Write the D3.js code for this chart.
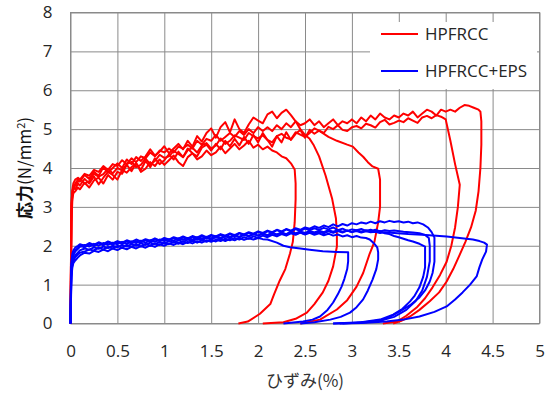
<!DOCTYPE html>
<html>
<head>
<meta charset="utf-8">
<script src="https://cdn.jsdelivr.net/npm/d3@7"></script>
<style>
  body { margin: 0; background: #fff; }
  svg { display: block; }
</style>
</head>
<body>
<svg id="chart" width="550" height="394"></svg>
<script>
const xTicks = [0, 0.5, 1, 1.5, 2, 2.5, 3, 3.5, 4, 4.5, 5];
const yTicks = [0, 1, 2, 3, 4, 5, 6, 7, 8];
const seriesNames = ['HPFRCC', 'HPFRCC+EPS'];

// strain (%) values where the loading branches were read
const strainGrid = [0, 0.005, 0.01, 0.02, 0.03, 0.05, 0.08,
  0.1, 0.15, 0.2, 0.25, 0.3, 0.35, 0.4, 0.45, 0.5,
  0.55, 0.6, 0.65, 0.7, 0.75, 0.8, 0.85, 0.9, 0.95, 1.0,
  1.05, 1.1, 1.15, 1.2, 1.25, 1.3, 1.35, 1.4, 1.45, 1.5,
  1.55, 1.6, 1.65, 1.7, 1.75, 1.8, 1.85, 1.9, 1.95, 2.0,
  2.05, 2.1, 2.15, 2.2, 2.25, 2.3, 2.35, 2.4, 2.45, 2.5,
  2.55, 2.6, 2.65, 2.7, 2.75, 2.8, 2.85, 2.9, 2.95, 3.0,
  3.05, 3.1, 3.15, 3.2, 3.25, 3.3, 3.35, 3.4, 3.45, 3.5,
  3.55, 3.6, 3.65, 3.7, 3.75, 3.8, 3.85, 3.9, 3.95, 4.0,
  4.05, 4.1, 4.15, 4.2, 4.25, 4.3, 4.35];

// HPFRCC specimens: stress on strainGrid, then unloading [strain, stress]
const hpLoad1 = [0, 1.6, 3.1, 3.4, 3.5, 3.45, 3.6,
  3.55, 3.72, 3.6, 3.78, 3.58, 3.75, 3.9, 3.82, 3.7,
  3.95, 3.88, 4.02, 4.12, 3.9, 3.98, 4.15, 4.05, 4.22, 4.08,
  4.2, 4.32, 4.15, 4.05, 4.28, 4.38, 4.22, 4.3, 4.45, 4.33,
  4.4, 4.55, 4.38, 4.5, 4.62, 4.48, 4.58, 4.7, 4.52, 4.6,
  4.48, 4.55];
const hpUnload1 = [[2.15, 4.45], [2.2, 4.4], [2.25, 4.3], [2.3, 4.25], [2.35, 4.12], [2.39, 3.96],
  [2.4, 3.6], [2.4, 3.2], [2.39, 2.6], [2.37, 2.1], [2.34, 1.8], [2.29, 1.4], [2.23, 1.1],
  [2.17, 0.75], [2.13, 0.5], [2.02, 0.25], [1.89, 0.05], [1.79, 0]];

const hpLoad2 = [0, 1.5, 2.9, 3.3, 3.45, 3.6, 3.7,
  3.65, 3.82, 3.72, 3.9, 3.8, 4.02, 3.88, 4.0, 4.12,
  4.0, 4.22, 4.1, 4.28, 4.18, 4.3, 4.48, 4.32, 4.42, 4.56,
  4.38, 4.5, 4.62, 4.48, 4.7, 4.55, 4.82, 4.68, 4.9, 5.02,
  4.78, 5.05, 5.18, 4.92, 5.25, 5.0, 4.9, 5.12, 5.3, 5.22,
  5.15, 5.38, 5.45, 5.28, 5.42, 5.5, 5.36];
const hpUnload2 = [[2.4, 5.2], [2.45, 5.0], [2.5, 4.85], [2.55, 4.75], [2.59, 4.6], [2.65, 4.3],
  [2.72, 3.8], [2.79, 3.2], [2.83, 2.7], [2.84, 2.3], [2.84, 1.98], [2.8, 1.47], [2.75, 1.1],
  [2.69, 0.8], [2.6, 0.5], [2.52, 0.28], [2.4, 0.12], [2.27, 0.03], [2.05, 0]];

const hpLoad3 = [0, 1.2, 2.6, 3.2, 3.35, 3.4, 3.5,
  3.45, 3.62, 3.5, 3.68, 3.75, 3.6, 3.82, 3.7, 3.9,
  3.85, 4.08, 3.92, 4.12, 3.95, 4.18, 4.02, 4.25, 4.1, 4.2,
  4.35, 4.22, 4.42, 4.28, 4.5, 4.38, 4.3, 4.52, 4.6, 4.45,
  4.62, 4.48, 4.7, 4.56, 4.75, 4.58, 4.8, 4.62, 4.85, 4.66,
  4.9, 4.72, 4.55, 4.82, 4.66, 4.92, 4.72, 4.88, 4.98, 4.78,
  4.98, 4.88, 4.96];
const hpUnload3 = [[2.75, 4.8], [2.84, 4.7], [2.95, 4.6], [3.01, 4.55], [3.07, 4.4], [3.12, 4.29],
  [3.17, 4.15], [3.22, 4.04], [3.28, 3.98], [3.3, 3.7], [3.3, 3.0], [3.28, 2.6], [3.24, 2.1],
  [3.19, 1.8], [3.12, 1.3], [3.05, 0.95], [2.95, 0.6], [2.84, 0.36], [2.66, 0.1], [2.45, 0]];

const hpLoad4 = [0, 1.4, 2.8, 3.35, 3.5, 3.55, 3.65,
  3.72, 3.6, 3.66, 3.85, 3.78, 3.84, 3.98, 3.86, 4.0,
  3.94, 4.1, 4.16, 4.02, 4.08, 4.24, 4.1, 4.18, 4.34, 4.26,
  4.3, 4.44, 4.36, 4.28, 4.46, 4.52, 4.4, 4.58, 4.64, 4.5,
  4.58, 4.76, 4.62, 4.7, 4.84, 4.78, 4.72, 4.9, 4.82, 4.76,
  4.84, 4.72, 4.66, 4.82, 4.88, 4.78, 4.74, 4.92, 4.86, 4.8,
  4.9, 5.02, 4.96, 4.9, 5.06, 5.0, 5.1, 4.98, 4.95, 5.05,
  5.08, 5.02, 5.14, 5.1, 5.04, 5.18, 5.24, 5.12, 5.16, 5.22,
  5.18, 5.28, 5.22, 5.16, 5.3, 5.34, 5.28, 5.36, 5.32, 5.25];
const hpUnload4 = [[4.05, 4.7], [4.1, 4.1], [4.15, 3.57], [4.13, 3.0], [4.1, 2.47], [4.06, 2.0],
  [4.01, 1.59], [3.94, 1.25], [3.86, 0.93], [3.78, 0.65], [3.69, 0.41], [3.58, 0.2],
  [3.48, 0.05], [3.33, 0]];

const hpLoad5 = [0, 1.5, 3.0, 3.45, 3.6, 3.7, 3.75,
  3.7, 3.85, 3.8, 3.95, 3.9, 4.05, 3.95, 4.1, 4.05,
  4.2, 4.1, 4.25, 4.15, 4.3, 4.25, 4.4, 4.3, 4.45, 4.4,
  4.5, 4.4, 4.55, 4.5, 4.6, 4.5, 4.7, 4.6, 4.75, 4.7,
  4.85, 4.7, 4.8, 4.9, 4.8, 4.95, 4.85, 5.0, 4.9, 5.05,
  4.95, 5.05, 4.95, 5.1, 5.0, 5.15, 5.05, 5.2, 5.1, 5.15,
  5.25, 5.1, 5.2, 5.05, 5.15, 5.25, 5.1, 5.2, 5.15, 5.25,
  5.15, 5.3, 5.2, 5.35, 5.25, 5.4, 5.3, 5.25, 5.35, 5.3,
  5.4, 5.35, 5.45, 5.3, 5.4, 5.5, 5.45, 5.35, 5.5, 5.45,
  5.5, 5.45, 5.55, 5.62, 5.6, 5.55, 5.5];
const hpUnload5 = [[4.37, 5.45], [4.38, 5.2], [4.38, 4.6], [4.37, 4.0], [4.35, 3.4], [4.32, 2.9],
  [4.27, 2.47], [4.21, 2.1], [4.15, 1.77], [4.08, 1.4], [4.01, 1.08], [3.93, 0.8], [3.83, 0.57],
  [3.72, 0.35], [3.62, 0.18], [3.52, 0.06], [3.44, 0]];

// HPFRCC+EPS specimens
const epsLoad1 = [0, 0.7, 1.3, 1.5, 1.6, 1.7, 1.78,
  1.82, 1.85, 1.9, 1.88, 1.95, 1.9, 1.97, 1.93, 2.0,
  1.95, 2.02, 1.97, 2.03, 1.98, 2.05, 2.0, 2.06, 2.02, 2.08,
  2.04, 2.1, 2.05, 2.11, 2.07, 2.13, 2.08, 2.14, 2.1, 2.15,
  2.11, 2.17, 2.12, 2.18, 2.14, 2.2, 2.15, 2.19, 2.16, 2.2,
  2.17, 2.16];
const epsUnload1 = [[2.2, 2.08], [2.27, 2.0], [2.34, 1.96], [2.45, 1.93], [2.55, 1.9], [2.69, 1.86],
  [2.84, 1.84], [2.96, 1.83], [2.96, 1.6], [2.95, 1.4], [2.92, 1.15], [2.89, 0.95], [2.85, 0.75],
  [2.8, 0.54], [2.74, 0.35], [2.66, 0.18], [2.58, 0.1], [2.48, 0.05], [2.27, 0]];

const epsLoad2 = [0, 0.9, 1.45, 1.65, 1.75, 1.85, 1.92,
  1.97, 2.02, 1.98, 2.05, 2.0, 2.07, 2.02, 2.08, 2.04,
  2.1, 2.05, 2.11, 2.07, 2.13, 2.08, 2.14, 2.1, 2.16, 2.12,
  2.17, 2.13, 2.19, 2.15, 2.2, 2.16, 2.22, 2.18, 2.23, 2.19,
  2.25, 2.2, 2.26, 2.22, 2.28, 2.23, 2.29, 2.25, 2.3, 2.26,
  2.31, 2.27, 2.32, 2.28, 2.33, 2.29, 2.35, 2.3, 2.34, 2.29,
  2.33, 2.28, 2.32, 2.27, 2.31, 2.26, 2.29, 2.24, 2.27, 2.22,
  2.25, 2.21];
const epsUnload2 = [[3.15, 2.2], [3.19, 2.16], [3.24, 2.05], [3.27, 1.96], [3.28, 1.83], [3.28, 1.65],
  [3.26, 1.4], [3.22, 1.13], [3.17, 0.85], [3.12, 0.62], [3.05, 0.42], [2.98, 0.28], [2.88, 0.17],
  [2.77, 0.1], [2.6, 0.03], [2.45, 0]];

const epsLoad3 = [0, 1.0, 1.5, 1.7, 1.8, 1.88, 1.95,
  2.0, 1.96, 2.03, 1.99, 2.06, 2.01, 2.08, 2.03, 2.09,
  2.05, 2.11, 2.06, 2.12, 2.08, 2.15, 2.1, 2.16, 2.12, 2.18,
  2.14, 2.2, 2.15, 2.21, 2.17, 2.23, 2.18, 2.24, 2.2, 2.26,
  2.22, 2.28, 2.23, 2.3, 2.25, 2.32, 2.27, 2.33, 2.29, 2.35,
  2.31, 2.37, 2.33, 2.4, 2.35, 2.42, 2.37, 2.43, 2.38, 2.44,
  2.4, 2.45, 2.41, 2.46, 2.42, 2.47, 2.4, 2.44, 2.38, 2.42,
  2.4, 2.43, 2.38, 2.41, 2.37, 2.38, 2.32, 2.3, 2.25, 2.22, 2.18, 2.14];
const epsUnload3 = [[3.65, 2.11], [3.72, 2.05], [3.78, 1.98], [3.78, 1.7], [3.78, 1.44], [3.76, 1.2],
  [3.72, 0.93], [3.67, 0.72], [3.62, 0.57], [3.54, 0.38], [3.44, 0.23], [3.3, 0.1], [3.1, 0.03],
  [2.8, 0]];

const epsLoad4 = [0, 0.6, 1.2, 1.45, 1.55, 1.62, 1.7,
  1.75, 1.82, 1.8, 1.87, 1.84, 1.9, 1.86, 1.93, 1.89,
  1.95, 1.91, 1.97, 1.93, 1.99, 1.95, 2.01, 1.97, 2.04, 2.0,
  2.06, 2.02, 2.08, 2.04, 2.1, 2.06, 2.12, 2.08, 2.14, 2.1,
  2.16, 2.12, 2.18, 2.14, 2.2, 2.16, 2.22, 2.18, 2.24, 2.2,
  2.26, 2.22, 2.28, 2.24, 2.3, 2.26, 2.32, 2.28, 2.34, 2.3,
  2.35, 2.31, 2.36, 2.32, 2.37, 2.33, 2.38, 2.34, 2.39, 2.35,
  2.4, 2.36, 2.4, 2.37, 2.41, 2.37, 2.4, 2.38, 2.39];
const epsUnload4 = [[3.55, 2.36], [3.65, 2.34], [3.72, 2.32], [3.78, 2.28], [3.82, 2.2], [3.83, 2.0],
  [3.83, 1.6], [3.8, 1.2], [3.75, 0.85], [3.68, 0.58], [3.58, 0.35], [3.45, 0.17], [3.3, 0.07],
  [3.05, 0.02], [2.8, 0]];

const epsLoad5 = [0, 1.1, 1.6, 1.8, 1.88, 1.95, 2.0,
  2.04, 2.0, 2.07, 2.02, 2.09, 2.04, 2.11, 2.06, 2.12,
  2.08, 2.14, 2.1, 2.16, 2.11, 2.17, 2.13, 2.19, 2.14, 2.2,
  2.16, 2.22, 2.18, 2.24, 2.19, 2.25, 2.21, 2.27, 2.22, 2.28,
  2.24, 2.3, 2.26, 2.32, 2.27, 2.33, 2.29, 2.35, 2.31, 2.37,
  2.33, 2.39, 2.35, 2.41, 2.37, 2.43, 2.39, 2.45, 2.41, 2.47,
  2.44, 2.5, 2.46, 2.52, 2.48, 2.55, 2.5, 2.56, 2.52, 2.58,
  2.55, 2.6, 2.57, 2.62, 2.58, 2.63, 2.6, 2.64, 2.61, 2.63,
  2.6, 2.62, 2.58, 2.6];
const epsUnload5 = [[3.76, 2.55], [3.81, 2.47], [3.85, 2.35], [3.88, 2.21], [3.88, 1.9], [3.88, 1.59],
  [3.86, 1.3], [3.83, 1.08], [3.78, 0.85], [3.72, 0.67], [3.62, 0.47], [3.51, 0.31], [3.42, 0.19],
  [3.33, 0.1], [3.15, 0.03], [2.9, 0]];

const epsLoad6 = [0, 0.8, 1.35, 1.55, 1.65, 1.75, 1.83,
  1.88, 1.93, 1.9, 1.96, 1.92, 1.98, 1.94, 2.0, 1.96,
  2.02, 1.98, 2.04, 2.0, 2.06, 2.02, 2.08, 2.04, 2.1, 2.06,
  2.12, 2.08, 2.14, 2.1, 2.16, 2.12, 2.18, 2.14, 2.2, 2.16,
  2.22, 2.18, 2.24, 2.2, 2.26, 2.22, 2.28, 2.24, 2.3, 2.26,
  2.31, 2.27, 2.33, 2.29, 2.34, 2.3, 2.36, 2.32, 2.37, 2.33,
  2.38, 2.34, 2.39, 2.35, 2.4, 2.36, 2.4, 2.36, 2.39, 2.35,
  2.38, 2.34, 2.37, 2.35, 2.36, 2.33, 2.35];
const epsUnload6 = [[3.45, 2.33], [3.6, 2.3], [3.75, 2.28], [3.9, 2.26], [4.01, 2.24], [4.15, 2.2],
  [4.29, 2.16], [4.36, 2.12], [4.41, 2.08], [4.44, 2.03], [4.43, 1.85], [4.39, 1.65], [4.36, 1.45],
  [4.33, 1.21], [4.26, 1.0], [4.18, 0.8], [4.1, 0.62], [4.01, 0.44], [3.88, 0.3], [3.72, 0.18],
  [3.55, 0.1], [3.37, 0.05], [3.1, 0.01], [2.87, 0]];

const hpSpecimens = [[hpLoad1, hpUnload1], [hpLoad2, hpUnload2], [hpLoad3, hpUnload3],
  [hpLoad4, hpUnload4], [hpLoad5, hpUnload5]];
const epsSpecimens = [[epsLoad1, epsUnload1], [epsLoad2, epsUnload2], [epsLoad3, epsUnload3],
  [epsLoad4, epsUnload4], [epsLoad5, epsUnload5], [epsLoad6, epsUnload6]];

const red = '#ff0000';
const blue = '#0000ff';
const gridColor = '#8a8a8a';
const numFont = "'Open Sans', sans-serif";
const jpFont = "'Noto Sans CJK JP', sans-serif";

const svg = d3.select('#chart');
svg.append('rect').attr('width', 550).attr('height', 394).attr('fill', '#fff');

const x = d3.scaleLinear().domain([0, 5]).range([70.5, 539.5]);
const y = d3.scaleLinear().domain([0, 8]).range([323.5, 12.5]);

// grid + tick labels
const gx = svg.append('g')
  .attr('transform', `translate(0,${y(0)})`)
  .call(d3.axisBottom(x)
    .tickValues(xTicks)
    .tickFormat(d => String(d))
    .tickSize(-(y(0) - y(8)))
    .tickPadding(21));

const gy = svg.append('g')
  .attr('transform', `translate(${x(0)},0)`)
  .call(d3.axisLeft(y)
    .tickValues(yTicks)
    .tickFormat(d => String(d))
    .tickSize(-(x(5) - x(0)))
    .tickPadding(18));

[gx, gy].forEach(g => {
  g.select('.domain').remove();
  g.selectAll('.tick line').attr('stroke', gridColor).attr('stroke-width', 1);
  g.selectAll('.tick text')
    .attr('fill', '#262626')
    .style('font-family', numFont)
    .style('font-size', '17px');
});

svg.append('rect')
  .attr('x', x(0)).attr('y', y(8))
  .attr('width', x(5) - x(0)).attr('height', y(0) - y(8))
  .attr('fill', 'none')
  .attr('stroke', gridColor);

// curves
const toPoints = ([load, unload]) => load.map((s, i) => [strainGrid[i], s]).concat(unload);

const line = d3.line()
  .x(d => x(d[0]))
  .y(d => y(d[1]));

svg.append('g').selectAll('path')
  .data(hpSpecimens.map(toPoints))
  .enter()
  .append('path')
  .attr('d', line)
  .attr('fill', 'none')
  .attr('stroke', red)
  .attr('stroke-width', 2)
  .attr('stroke-linejoin', 'round');

svg.append('g').selectAll('path')
  .data(epsSpecimens.map(toPoints))
  .enter()
  .append('path')
  .attr('d', line)
  .attr('fill', 'none')
  .attr('stroke', blue)
  .attr('stroke-width', 2)
  .attr('stroke-linejoin', 'round');

// legend
const legend = svg.append('g');
legend.append('rect')
  .attr('x', 370).attr('y', 22)
  .attr('width', 167).attr('height', 67)
  .attr('fill', '#fff');

const legendItems = legend.selectAll('.item')
  .data(seriesNames)
  .enter()
  .append('g')
  .attr('class', 'item')
  .attr('transform', (d, i) => `translate(381,${34 + i * 37})`);

legendItems.append('line')
  .attr('x1', 0).attr('x2', 37)
  .attr('stroke', (d, i) => i === 0 ? red : blue)
  .attr('stroke-width', 2);

legendItems.append('text')
  .attr('x', 44).attr('y', 6)
  .attr('fill', '#262626')
  .style('font-family', numFont)
  .style('font-size', '17px')
  .text(d => d);

// axis titles
svg.append('text')
  .attr('x', (x(0) + x(5)) / 2)
  .attr('y', 387)
  .attr('text-anchor', 'middle')
  .attr('fill', '#333')
  .style('font-family', jpFont)
  .style('font-size', '17px')
  .text('ひずみ(%)');

const yTitle = svg.append('text')
  .attr('transform', `translate(31,${(y(0) + y(8)) / 2}) rotate(-90)`)
  .attr('text-anchor', 'middle')
  .attr('fill', '#111')
  .style('font-family', jpFont)
  .style('font-size', '17px');
yTitle.append('tspan').style('font-weight', 'bold').text('応力');
yTitle.append('tspan').text('(N/mm');
yTitle.append('tspan').attr('dy', -6).style('font-size', '11px').text('2');
yTitle.append('tspan').attr('dy', 6).text(')');
</script>
</body>
</html>
